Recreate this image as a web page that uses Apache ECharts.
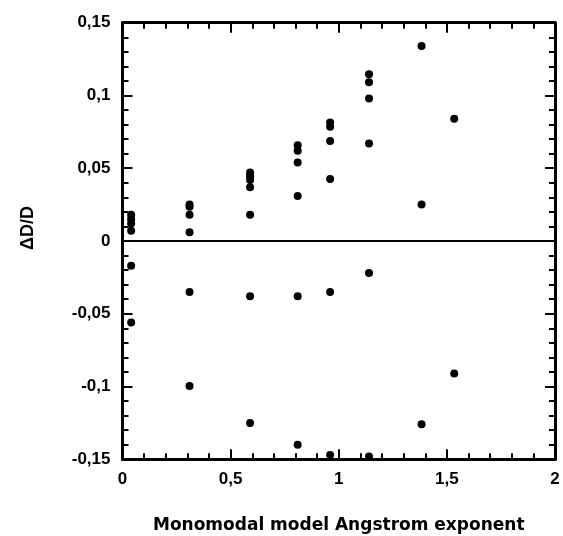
<!DOCTYPE html>
<html>
<head>
<meta charset="utf-8">
<script src="https://cdn.jsdelivr.net/npm/echarts@6/dist/echarts.min.js"></script>
<style>
html,body{margin:0;padding:0;background:#fff;}
#chart{width:563px;height:536px;}
</style>
</head>
<body>
<div id="chart"></div>
<script>
// Data (x = Angstrom exponent, y = ΔD/D)
const xValues = [
  0.04, 0.04, 0.04, 0.04, 0.04, 0.04,
  0.31, 0.31, 0.31, 0.31, 0.31, 0.31,
  0.59, 0.59, 0.59, 0.59, 0.59, 0.59, 0.59,
  0.81, 0.81, 0.81, 0.81, 0.81, 0.81,
  0.96, 0.96, 0.96, 0.96, 0.96, 0.96,
  1.14, 1.14, 1.14, 1.14, 1.14, 1.14,
  1.383, 1.383, 1.383,
  1.534, 1.534
];
const yValues = [
  0.018, 0.015, 0.012, 0.007, -0.017, -0.056,
  0.025, 0.0235, 0.018, 0.006, -0.035, -0.0996,
  0.047, 0.0445, 0.042, 0.037, 0.018, -0.038, -0.125,
  0.0658, 0.062, 0.054, 0.031, -0.038, -0.140,
  0.0815, 0.0785, 0.0687, 0.0426, -0.035, -0.147,
  0.1145, 0.109, 0.098, 0.067, -0.022, -0.148,
  0.134, 0.025, -0.126,
  0.084, -0.091
];
const xTickLabels = ['0', '0,5', '1', '1,5', '2'];
const yTickLabels = ['-0,15', '-0,1', '-0,05', '0', '0,05', '0,1', '0,15'];
const xTitle = 'Monomodal model Angstrom exponent';
const yTitle = 'ΔD/D';

const points = xValues.map((x, i) => [x, yValues[i]]);
const fmt = v => String(+v.toFixed(4)).replace('.', ',');

const axisLineStyle = { color: '#000', width: 3 };
const tickCommon = { show: true, inside: true, length: 10, lineStyle: { color: '#000', width: 2 } };
const minorCommon = { show: true, splitNumber: 5, length: 6, lineStyle: { color: '#000', width: 2 } };
const labelFont = { color: '#000', fontSize: 17, fontWeight: 'bold', fontFamily: 'Arial' };

const chart = echarts.init(document.getElementById('chart'), null, { renderer: 'canvas' });
chart.setOption({
  animation: false,
  backgroundColor: '#fff',
  grid: { left: 122.5, right: 8, top: 22.7, bottom: 76.7, containLabel: false, outerBoundsMode: 'none' },
  xAxis: [
    {
      type: 'value', position: 'bottom', min: 0, max: 2, interval: 0.5,
      axisLine: { show: true, onZero: false, lineStyle: axisLineStyle },
      axisTick: tickCommon,
      minorTick: minorCommon,
      splitLine: { show: false },
      axisLabel: Object.assign({ margin: 12, formatter: v => { const s = fmt(v); return xTickLabels.includes(s) ? s : ''; } }, labelFont),
      name: xTitle, nameLocation: 'middle', nameGap: 58,
      nameTextStyle: { color: '#000', fontSize: 17, fontWeight: 'bold', fontFamily: 'DejaVu Sans' }
    },
    {
      type: 'value', position: 'top', min: 0, max: 2, interval: 0.5,
      axisLine: { show: true, onZero: false, lineStyle: axisLineStyle },
      axisTick: tickCommon,
      minorTick: minorCommon,
      splitLine: { show: false },
      axisLabel: { show: false }
    }
  ],
  yAxis: [
    {
      type: 'value', position: 'left', min: -0.15, max: 0.15, interval: 0.05,
      axisLine: { show: true, onZero: false, lineStyle: axisLineStyle },
      axisTick: tickCommon,
      minorTick: minorCommon,
      splitLine: { show: false },
      axisLabel: Object.assign({ margin: 12, formatter: v => { const s = fmt(v); return yTickLabels.includes(s) ? s : ''; } }, labelFont),
      name: yTitle, nameLocation: 'middle', nameGap: 85, nameRotate: 90,
      nameTextStyle: { color: '#000', fontSize: 18, fontWeight: 'bold', fontFamily: 'Arial', padding: [0, 0, 0, 26] }
    },
    {
      type: 'value', position: 'right', min: -0.15, max: 0.15, interval: 0.05,
      axisLine: { show: true, onZero: false, lineStyle: axisLineStyle },
      axisTick: tickCommon,
      minorTick: minorCommon,
      splitLine: { show: false },
      axisLabel: { show: false }
    }
  ],
  series: [
    {
      type: 'scatter',
      xAxisIndex: 0, yAxisIndex: 0,
      data: points,
      symbol: 'circle',
      symbolSize: 8,
      itemStyle: { color: '#000', opacity: 1 },
      markLine: {
        silent: true,
        symbol: ['none', 'none'],
        label: { show: false },
        lineStyle: { color: '#000', width: 2, type: 'solid' },
        data: [{ yAxis: 0 }]
      }
    }
  ]
});
</script>
</body>
</html>
